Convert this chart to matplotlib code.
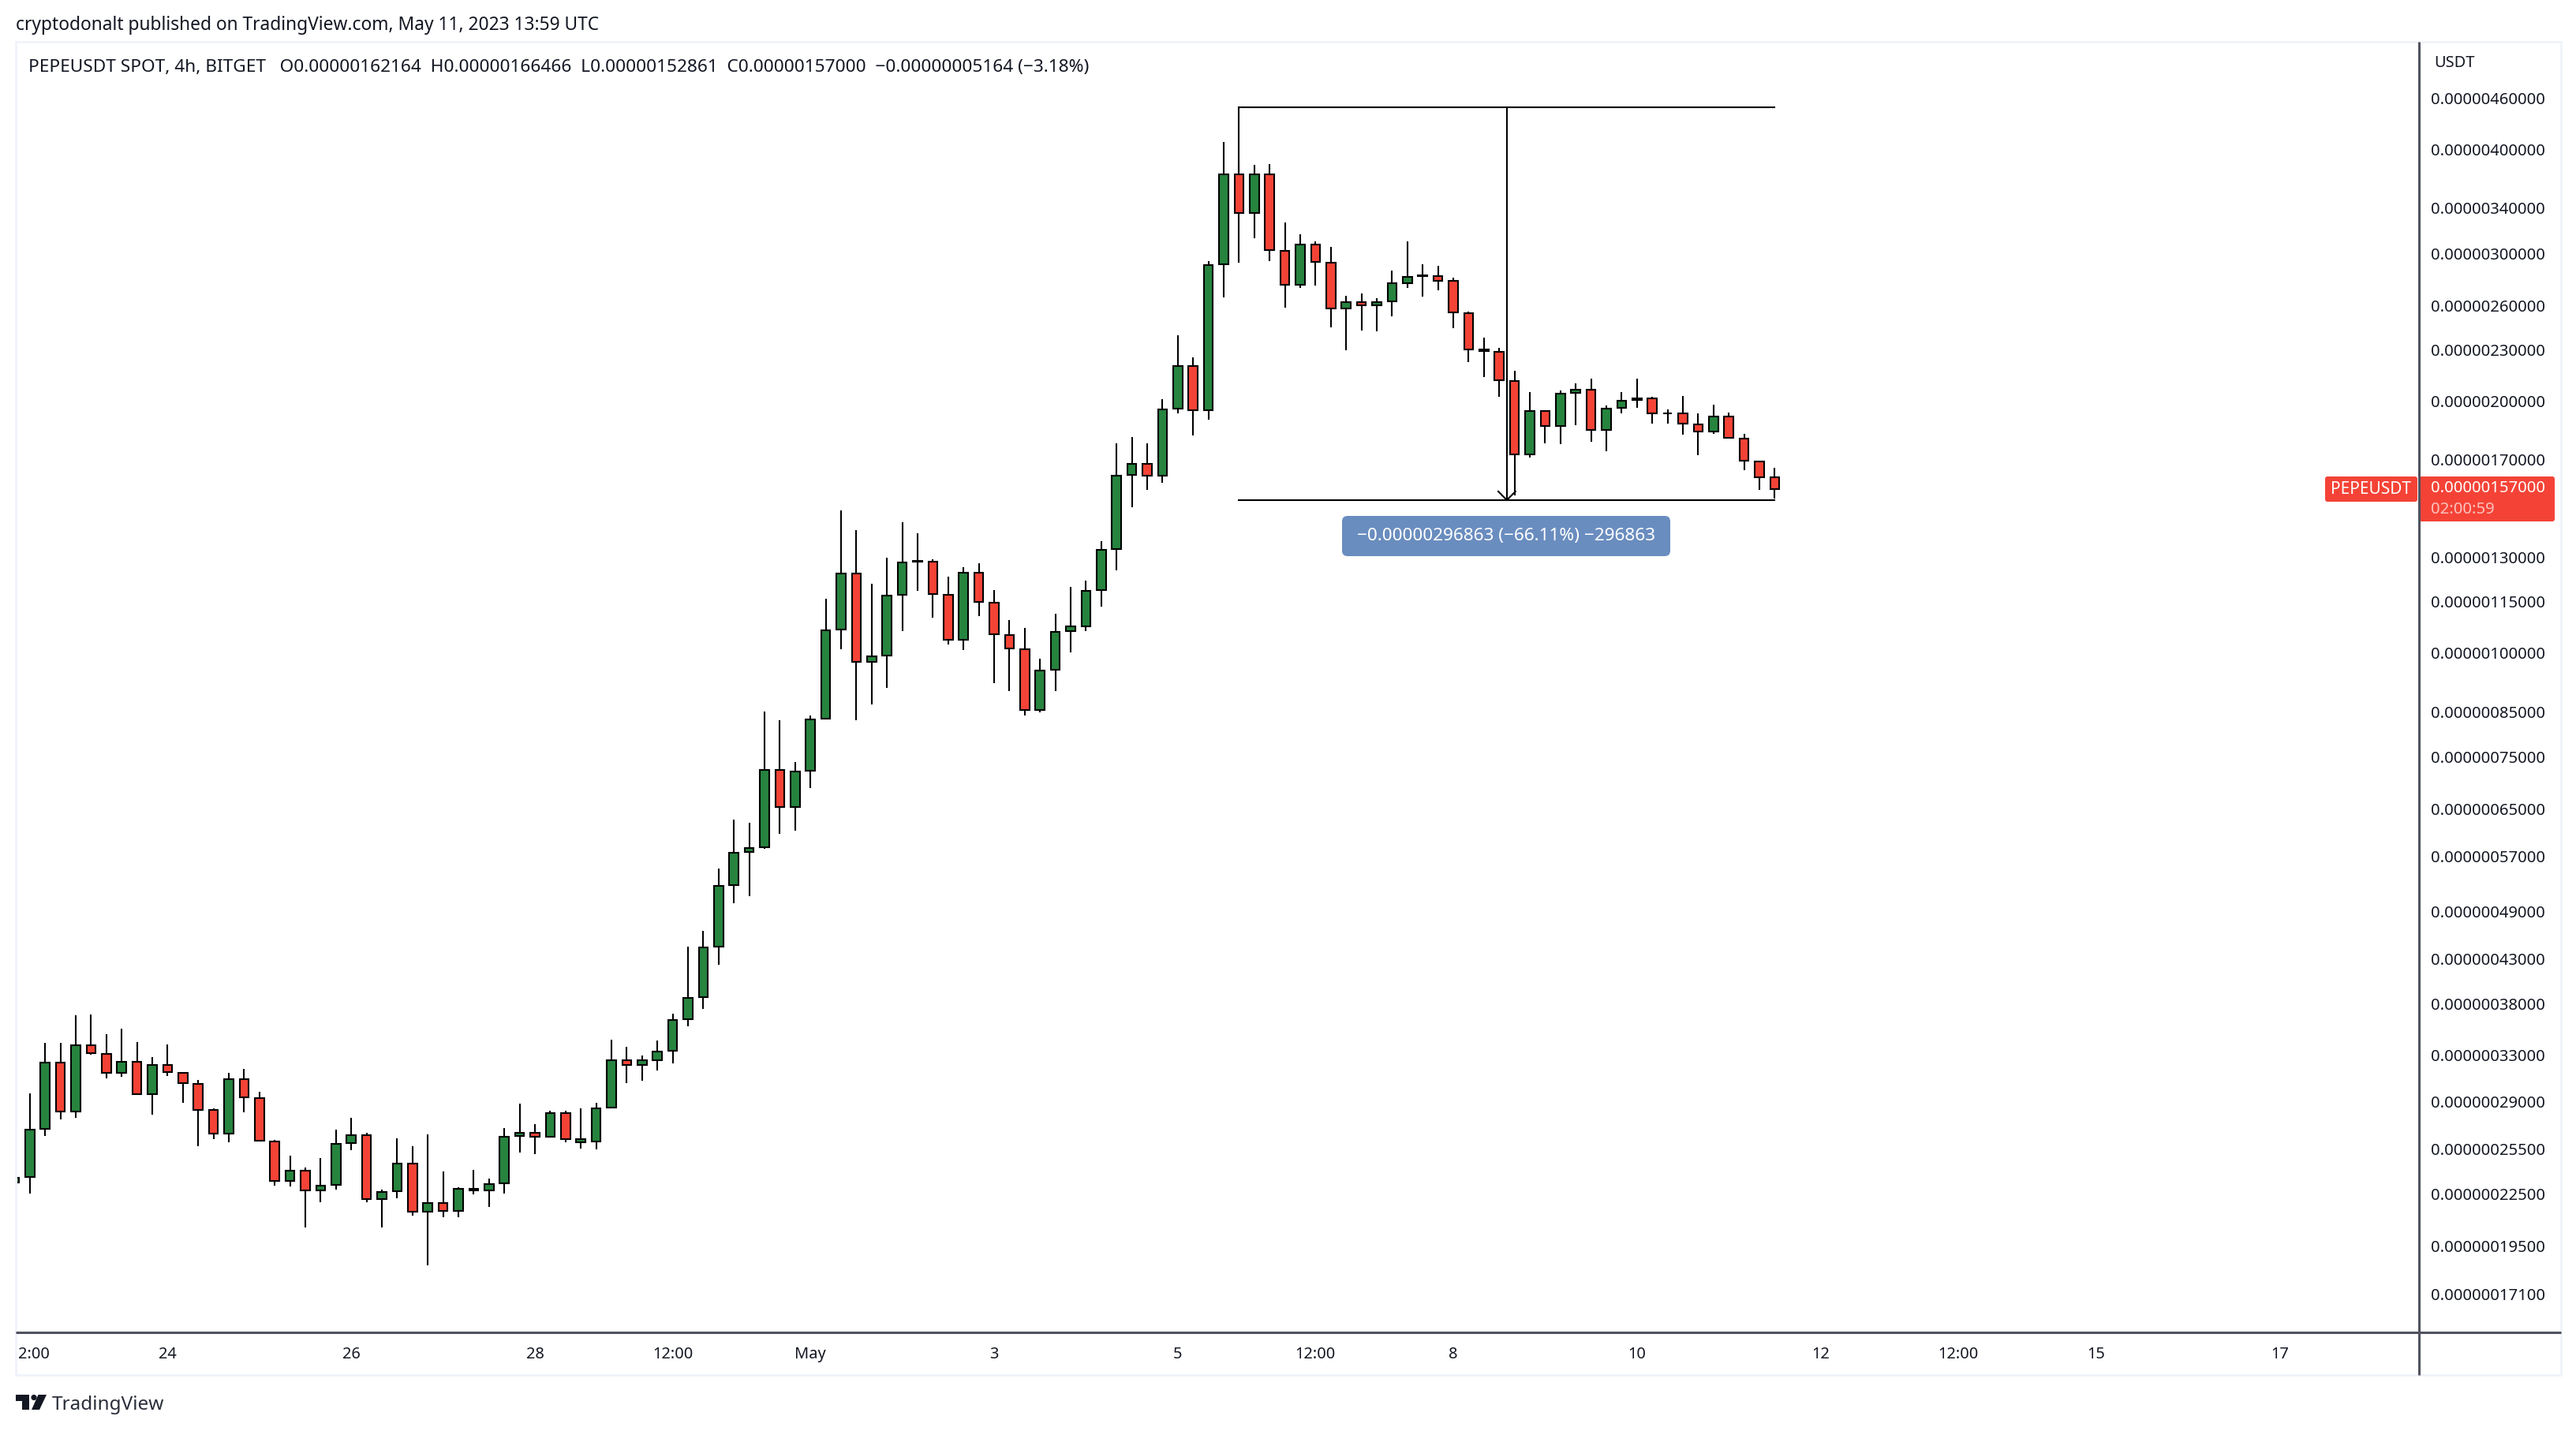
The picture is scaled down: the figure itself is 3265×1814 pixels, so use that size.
import numpy as np
import matplotlib
matplotlib.use("Agg")
import matplotlib.pyplot as plt
from matplotlib.patches import FancyBboxPatch, Polygon, Circle, Rectangle
from matplotlib.transforms import ScaledTranslation

plt.rcParams['font.family'] = ['Noto Sans', 'DejaVu Sans']

# prices in units of 1e-6 USDT; first candle is index -1
highs = [.2370,.2970,.3413,.3413,.3683,.3690,.3496,.3550,.3420,.3282,.3398,.3147,.3082,.2849,.3143,.3177,.2983,.2610,.2502,.2420,
         .2485,.2688,.2776,.2664,.2278,.2625,.2568,.2655,.2395,.2294,.2406,.2349,.2699,.2887,.2729,.2829,.2829,.2850,.2892,.3443,
         .3375,.3298,.3434,.3698,.4447,.4648,.5517,.6312,.6259,.8500,.8298,.7398,.8408,1.1598,1.4794,1.4012,1.2087,1.2985,1.4319,1.3889,
         1.2929,1.2325,1.2650,1.2789,1.1879,1.0937,1.0700,.9833,1.1130,1.1982,1.2192,1.3590,1.7793,1.8110,1.7797,2.0093,2.3963,2.2537,2.9376,4.0804,
         3.8300,3.8298,3.8400,3.2680,3.1640,3.1034,3.0552,2.6698,2.6879,2.6526,2.8640,3.1034,2.9134,2.9000,2.8067,2.5574,2.3803,2.3143,2.1730,2.0508,
         1.9492,2.0583,2.0987,2.1263,1.9749,2.0508,2.1263,2.0226,1.9535,2.0270,1.9324,1.9791,1.9365,1.8263,1.6952,1.66466]
body_top = [.2356,.2689,.3235,.3235,.3393,.3393,.3313,.3242,.3242,.3213,.3213,.3145,.3051,.2835,.3091,.3091,.2934,.2604,.2402,.2402,
            .2305,.2586,.2649,.2649,.2265,.2450,.2450,.2197,.2197,.2285,.2285,.2315,.2638,.2666,.2666,.2816,.2816,.2618,.2851,.3256,
            .3256,.3256,.3333,.3637,.3864,.4443,.5260,.5765,.5843,.7240,.7240,.7210,.8323,1.0639,1.2440,1.2440,.9905,1.1707,1.2825,1.2865,
            1.2853,1.1732,1.2467,1.2467,1.1480,1.0501,1.0099,.9523,1.0593,1.0743,1.1860,1.3279,1.6288,1.6821,1.6821,1.9544,2.2021,2.2021,2.9089,3.7330,
            3.7330,3.7330,3.7330,3.0244,3.0781,3.0781,2.9280,2.6262,2.6262,2.6262,2.7670,2.8160,2.8233,2.8208,2.7836,2.5460,2.3030,2.2893,2.1139,1.9450,
            1.9464,2.0412,2.0641,2.0641,1.9589,2.0020,2.0138,2.0117,1.9336,1.9336,1.8752,1.9175,1.9175,1.8037,1.6934,1.62164]
body_bottom = [.2322,.2358,.2693,.2823,.2823,.3316,.3141,.3141,.2962,.2962,.3147,.3054,.2836,.2657,.2657,.2936,.2606,.2332,.2332,.2272,
               .2272,.2307,.2588,.2219,.2219,.2267,.2144,.2144,.2149,.2149,.2272,.2272,.2317,.2640,.2636,.2636,.2618,.2597,.2600,.2854,
               .3210,.3210,.3256,.3338,.3640,.3869,.4447,.5270,.5768,.5847,.6530,.6530,.7215,.8335,1.0648,.9748,.9748,.9918,1.1716,1.2837,
               1.1742,1.0352,1.0352,1.1490,1.0510,1.0107,.8532,.8532,.9530,1.0602,1.0749,1.1869,1.3291,1.6308,1.6270,1.6280,1.9560,1.9500,1.9484,2.9134,
               3.3533,3.3533,3.0272,2.7511,2.7511,2.9332,2.5787,2.5787,2.6000,2.6000,2.6285,2.7670,2.8184,2.7857,2.5510,2.3030,2.2933,2.1175,1.7262,1.7262,
               1.8652,1.8652,2.0429,1.8449,1.8449,1.9605,2.0038,1.9311,1.9311,1.8769,1.8383,1.8383,1.8065,1.6952,1.6195,1.57000]
lows = [.2310,.2255,.2643,.2766,.2778,.3306,.3098,.3111,.2962,.2803,.3118,.2895,.2570,.2621,.2597,.2821,.2606,.2305,.2300,.2054,
        .2202,.2279,.2542,.2202,.2054,.2226,.2122,.1851,.2113,.2113,.2250,.2173,.2255,.2525,.2511,.2636,.2597,.2552,.2547,.2854,
        .3053,.3077,.3165,.3229,.3571,.3751,.4234,.5017,.5111,.5828,.6074,.6126,.6892,.8335,1.0099,.8304,.8674,.9079,1.0616,1.1860,
        1.1016,1.0235,1.0077,1.1064,.9198,.9000,.8411,.8488,.9000,1.0010,1.0616,1.1357,1.2549,1.4933,1.5655,1.5972,1.9336,1.8200,1.9004,2.6609,
        2.9280,3.1320,2.9402,2.5826,2.7304,2.7445,2.4508,2.3010,2.4285,2.4243,2.5254,2.7304,2.6680,2.7147,2.4449,2.2275,2.1333,2.0243,1.5405,1.7124,
        1.7805,1.7765,1.8716,1.7882,1.7423,1.9336,1.9632,1.8796,1.8796,1.8235,1.7236,1.8275,1.8065,1.6538,1.5663,1.52861]
direction = ("gggrgrrgrg" "rrrrgrrrgr" "gggrggrgrg" "ggggrgrggg" "rggggggggg" "rggggrgggg"
             "rrgrrrrggg" "ggggrggrgg" "rgrrgrrgrg" "gggrrrgrrg" "rggrgggrgr" "rgrrrr")

price_ticks = [4.6,4.0,3.4,3.0,2.6,2.3,2.0,1.7,1.3,1.15,1.0,.85,.75,.65,.57,.49,.43,.38,.33,.29,.255,.225,.195,.171]
price_labels = ["0.00000460000","0.00000400000","0.00000340000","0.00000300000","0.00000260000","0.00000230000",
                "0.00000200000","0.00000170000","0.00000130000","0.00000115000","0.00000100000","0.00000085000",
                "0.00000075000","0.00000065000","0.00000057000","0.00000049000","0.00000043000","0.00000038000",
                "0.00000033000","0.00000029000","0.00000025500","0.00000022500","0.00000019500","0.00000017100"]
time_ticks = [0,9,21,33,42,51,63,75,84,93,105,117,126,135,147]
time_labels = ["2:00","24","26","28","12:00","May","3","5","12:00","8","10","12","12:00","15","17"]

range_start = 4.4904
range_end = 1.5218

GREEN, RED, BLACK = "#26843e", "#f44336", "#000000"
W, H = 3266, 1814
fig = plt.figure(figsize=(W/100, H/100), dpi=100, facecolor="white")
L, R, T, B = 20, 3066.7, 53, 1688.7
ax = fig.add_axes([L/W, 1-B/H, (R-L)/W, (B-T)/H])
ax.set_yscale("log")
ax.set_ylim(0.15387, 5.3763)
ax.set_xlim(-0.9175, 156.13)
for s in ax.spines.values():
    s.set_visible(False)

idx = np.arange(-1, len(highs)-1)
colors = [GREEN if d == "g" else RED for d in direction]
ax.vlines(idx, lows, highs, color=BLACK, lw=1.5, zorder=2)
ax.bar(idx, np.array(body_top)-np.array(body_bottom), bottom=body_bottom, width=0.59,
       color=colors, edgecolor=BLACK, linewidth=1.5, zorder=3)

# measure drawing
i0, i1, im = 79, 114, 96.5
ax.plot([i0, i0], [body_top[80], range_start], color=BLACK, lw=1.5, zorder=4)
ax.plot([i0, i1], [range_start, range_start], color=BLACK, lw=1.5, zorder=4)
ax.plot([i0, i1], [range_end, range_end], color=BLACK, lw=1.5, zorder=4)
ax.plot([im, im], [range_start, range_end], color=BLACK, lw=1.5, zorder=4)
ax.plot([im-0.56, im, im+0.56], [1.5585, range_end, 1.5585], color=BLACK, lw=1.5, zorder=4)

ax.yaxis.tick_right()
ax.minorticks_off()
ax.set_yticks(price_ticks, labels=price_labels)
ax.tick_params(axis="y", which="both", length=0, pad=10, labelsize=14.6, labelcolor="#131722")
ax.set_xticks(time_ticks, labels=time_labels)
ax.tick_params(axis="x", which="both", length=0, pad=13.5, labelsize=14.4, labelcolor="#131722")
for lab in ax.get_xticklabels():
    if lab.get_text() == "May":
        lab.set_fontweight("bold")
first = ax.get_xticklabels()[0]
first.set_transform(first.get_transform() + ScaledTranslation(0.05, 0, fig.dpi_scale_trans))

# chrome, in picture pixels
ov = fig.add_axes([0, 0, 1, 1], zorder=5)
ov.set_xlim(0, W); ov.set_ylim(H, 0); ov.axis("off"); ov.patch.set_alpha(0)
FRAME, AXLINE = "#f0f3fa", "#50535e"
ov.add_patch(Rectangle((20, 53), 3226, 1690, fill=False, ec=FRAME, lw=2))
ov.plot([3066, 3066], [53, 1743], color=AXLINE, lw=2.2, solid_capstyle="butt")
ov.plot([20, 3246], [1689, 1689], color=AXLINE, lw=2.2, solid_capstyle="butt")

ov.text(20, 32, "cryptodonalt published on TradingView.com, May 11, 2023 13:59 UTC",
        fontsize=16.4, color="#131722", va="center", ha="left")
ov.text(36, 86, "PEPEUSDT SPOT, 4h, BITGET   O0.00000162164  H0.00000166466  L0.00000152861  C0.00000157000  \u22120.00000005164 (\u22123.18%)",
        fontsize=16.3, color="#131722", va="center", ha="left")
ov.text(3085, 80, "USDT", fontsize=14.4, color="#131722", va="center", ha="left")

ov.add_patch(FancyBboxPatch((1701, 654), 416, 51, boxstyle="round,pad=0,rounding_size=7", fc="#6a8dbf", ec="none"))
ov.text(1909, 680, "\u22120.00000296863 (\u221266.11%) \u2212296863", fontsize=16.2, color="white",
        va="center", ha="center", fontweight="medium")

ov.add_patch(FancyBboxPatch((2947, 604), 117, 32, boxstyle="round,pad=0,rounding_size=3", fc=RED, ec="none"))
ov.text(3005.5, 620, "PEPEUSDT", fontsize=15.0, color="white", va="center", ha="center", fontweight="medium")
ov.add_patch(FancyBboxPatch((3066, 604), 172, 57, boxstyle="round,pad=0,rounding_size=3", fc=RED, ec="none"))
ov.text(3081, 619.5, "0.00000157000", fontsize=14.6, color="white", va="center", ha="left", fontweight="bold")
ov.text(3081, 646, "02:00:59", fontsize=14.6, color="#fbc3be", va="center", ha="left")

LOGO = "#131722"
ov.add_patch(Polygon([(20,1768),(37,1768),(37,1787),(28,1787),(28,1776),(20,1776)], fc=LOGO, ec="none"))
ov.add_patch(Circle((43, 1771.5), 3.6, fc=LOGO, ec="none"))
ov.add_patch(Polygon([(48.5,1768),(59,1768),(50,1787),(40,1787)], fc=LOGO, ec="none"))
ov.text(66, 1781, "TradingView", fontsize=17.5, color="#2a2e39", va="center", ha="left")

fig.savefig("out.png", dpi=100, facecolor="white")
